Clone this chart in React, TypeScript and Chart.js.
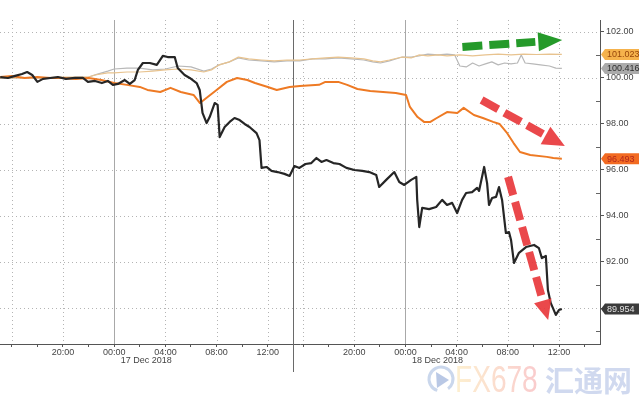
import React, { useEffect, useRef } from "react";
import { Chart, registerables } from "chart.js";

Chart.register(...registerables);

// ---- Data (x = display hours from 16 Dec 20:00; the 17 Dec afternoon gap is compressed) ----
const blackX = [-4.9,-4.3,-3.74,-3.2,-2.8,-2.4,-2.0,-1.56,-1.0,-0.4,0.23,0.94,1.56,1.95,2.5,3.04,3.5,3.9,4.29,4.83,5.22,5.6,5.85,6.24,6.78,7.33,7.8,8.18,8.73,8.96,9.5,9.9,10.44,10.68,10.9,11.22,11.46,11.85,12.08,12.24,12.63,13.02,13.4,13.8,14.19,14.57,15.12,15.35,15.51,15.9,16.29,16.76,17.3,17.7,18.08,18.47,18.94,19.4,19.8,20.19,20.58,21.12,21.6,22.14,22.76,23.38,23.93,24.47,24.7,25.25,25.88,26.27,26.66,27.2,27.6,27.67,27.83,28.06,28.6,29.15,29.62,30.0,30.4,30.79,31.18,31.49,31.96,32.35,32.5,32.9,33.13,33.28,33.52,33.83,34.06,34.3,34.6,34.84,35.0,35.23,35.62,36.17,36.8,37.18,37.41,37.72,37.88,38.1,38.5,38.74,38.97];
const blackY = [100.04,100.0,100.09,100.17,100.26,100.13,99.83,99.96,100.0,100.04,99.96,100.0,100.0,99.83,99.87,99.78,99.87,99.7,99.74,99.91,99.74,99.91,100.35,100.65,100.65,100.57,100.96,100.91,100.91,100.43,100.13,100.0,99.78,99.48,98.48,98.04,98.3,98.91,98.83,97.43,97.87,98.09,98.26,98.17,98.0,97.87,97.6,97.3,96.09,96.13,95.96,95.91,95.83,95.74,96.17,96.09,96.26,96.3,96.52,96.35,96.43,96.3,96.26,96.09,96.0,95.96,95.91,95.78,95.26,95.57,95.91,95.48,95.35,95.57,95.7,94.7,93.52,94.35,94.3,94.39,94.7,94.48,94.57,94.13,94.7,95.0,95.04,95.22,95.09,96.13,95.43,94.48,94.78,94.83,95.26,94.7,93.26,93.3,92.96,91.96,92.4,92.65,92.74,92.6,92.17,92.26,90.78,90.22,89.7,89.91,89.954];

const orangeX = [-4.9,-4,-3,-2,-1,0,1,2,3,4,5,6,6.6,7.6,8.4,9.2,10.2,10.7,11.2,12,12.8,13.6,14.4,15,16,16.7,17.7,18.5,20,20.5,21.5,22.2,23,24,25,26,26.8,27.1,27.7,28.2,28.7,29.2,30,30.8,31.3,32.1,32.8,33.6,34.1,34.7,35.2,35.7,36.5,37.8,38.3,38.97];
const orangeY = [100.04,100.09,100.0,100.04,100.0,100.0,99.96,100.0,99.91,99.78,99.7,99.61,99.48,99.39,99.57,99.39,99.26,98.91,99.13,99.48,99.83,100.0,99.91,99.78,99.61,99.48,99.61,99.65,99.7,99.83,99.83,99.7,99.52,99.43,99.39,99.35,99.26,98.74,98.3,98.09,98.09,98.26,98.52,98.48,98.7,98.39,98.26,98.09,98.0,97.6,97.17,96.78,96.65,96.57,96.52,96.493];

const tanX = [-4.9,-2,0,2,2.5,3.5,4,5,6,7,8,9,10,11,11.6,12.2,13,13.7,14.5,15.5,16.5,17.5,18.5,19.5,20.5,21.5,22.5,23.5,24.2,24.8,25.5,26.5,27.2,27.8,28.5,29.3,30,31,32,33,34,35,36,37,38,38.97];
const tanY = [100.0,100.0,100.04,100.04,100.13,100.22,100.22,100.26,100.26,100.3,100.35,100.39,100.35,100.26,100.35,100.57,100.7,100.91,100.83,100.78,100.74,100.78,100.78,100.83,100.87,100.91,100.87,100.83,100.74,100.7,100.78,100.91,100.87,101.0,100.96,101.0,100.96,101.0,100.96,101.0,101.04,101.0,101.04,101.02,101.04,101.023];

const grayX = [-4.9,0,2,2.7,3.5,4,5,6,7,8,9,10,11,11.6,12.2,13,13.7,14.5,15.5,16.5,17.5,18.5,19.5,20.5,21.5,22.5,23.5,24.2,24.8,25.5,26.5,27.2,27.8,28.5,29.3,30,30.6,31,31.5,32,32.5,33,33.5,34,34.5,35,35.5,35.8,36.1,36.7,37.3,38,38.5,38.97];
const grayY = [100.0,100.0,100.04,100.17,100.3,100.39,100.43,100.43,100.35,100.39,100.52,100.48,100.3,100.39,100.57,100.7,100.87,100.78,100.74,100.7,100.74,100.74,100.83,100.83,100.87,100.83,100.78,100.7,100.65,100.74,100.91,100.91,100.96,101.04,101.0,101.04,101.0,100.52,100.48,100.65,100.52,100.61,100.7,100.57,100.65,100.61,100.65,101.0,100.65,100.61,100.57,100.52,100.43,100.416];

const xTickValues = [-4,-2,0,2,4,6,8,10,12,14,16,18,18.75,20.75,22.75,24.75,26.75,28.75,30.75,32.75,34.75,36.75,38.75,40.75];
const xTickLabels = ["","","20:00","","00:00","","04:00","","08:00","","12:00","","","","20:00","","00:00","","04:00","","08:00","","12:00",""];
const xGridDotted = [-4,0,8,12,16,18.75,22.75,30.75,34.75,38.75];
const xGridDay = [4,26.75];
const xDivider = 18;
const dateLabels = ["17 Dec 2018","18 Dec 2018"];
const dateLabelX = [6.5,29.25];

const yTickValues = [89,90,91,92,93,94,95,96,97,98,99,100,101,102];
const yGridValues = [90,92,94,96,98,100,102];

// annotation arrows in data units: [x1, y1, x2, y2]
const greenArrow = [31.2, 101.35, 39.0, 101.65];
const redArrow1 = [32.7, 99.04, 39.2, 97.04];
const redArrow2 = [34.77, 95.7, 37.9, 89.48];

const FONT = '"Liberation Sans", Arial, sans-serif';

function toPts(xs: number[], ys: number[]) {
  return xs.map((x, i) => ({ x, y: ys[i] }));
}

function drawArrow(ctx: CanvasRenderingContext2D, x1: number, y1: number, x2: number, y2: number,
  color: string, width: number, headLen: number, headW: number, dash: number[]) {
  const dx = x2 - x1, dy = y2 - y1;
  const len = Math.hypot(dx, dy);
  const ux = dx / len, uy = dy / len;
  const bx = x2 - ux * headLen, by = y2 - uy * headLen;
  ctx.save();
  ctx.strokeStyle = color;
  ctx.fillStyle = color;
  ctx.lineWidth = width;
  ctx.lineCap = "butt";
  ctx.setLineDash(dash);
  ctx.beginPath();
  ctx.moveTo(x1, y1);
  ctx.lineTo(bx - ux * 3, by - uy * 3);
  ctx.stroke();
  ctx.setLineDash([]);
  ctx.beginPath();
  ctx.moveTo(x2, y2);
  ctx.lineTo(bx - uy * headW / 2, by + ux * headW / 2);
  ctx.lineTo(bx + uy * headW / 2, by - ux * headW / 2);
  ctx.closePath();
  ctx.fill();
  ctx.restore();
}

const decorPlugin = {
  id: "decor",
  beforeDatasetsDraw(chart: any) {
    const { ctx, chartArea, scales } = chart;
    const xs = scales.x, ys = scales.y;
    ctx.save();
    ctx.lineWidth = 1;
    ctx.strokeStyle = "#b4b4b4";
    ctx.setLineDash([1, 3]);
    yGridValues.forEach((v) => {
      const py = Math.round(ys.getPixelForValue(v)) + 0.5;
      ctx.beginPath();
      ctx.moveTo(chartArea.left, py);
      ctx.lineTo(chartArea.right, py);
      ctx.stroke();
    });
    xGridDotted.forEach((v) => {
      const px = Math.round(xs.getPixelForValue(v)) + 0.5;
      ctx.beginPath();
      ctx.moveTo(px, chartArea.top);
      ctx.lineTo(px, chartArea.bottom);
      ctx.stroke();
    });
    ctx.setLineDash([]);
    ctx.strokeStyle = "#a8a8a8";
    xGridDay.forEach((v) => {
      const px = Math.round(xs.getPixelForValue(v)) + 0.5;
      ctx.beginPath();
      ctx.moveTo(px, chartArea.top);
      ctx.lineTo(px, chartArea.bottom);
      ctx.stroke();
    });
    ctx.strokeStyle = "#6a6a6a";
    const dpx = Math.round(xs.getPixelForValue(xDivider)) + 0.5;
    ctx.beginPath();
    ctx.moveTo(dpx, chartArea.top);
    ctx.lineTo(dpx, chartArea.bottom + 28);
    ctx.stroke();
    ctx.restore();
  },
  afterDatasetsDraw(chart: any) {
    const { ctx, chartArea, scales } = chart;
    const xs = scales.x, ys = scales.y;
    ctx.save();
    ctx.strokeStyle = "#666";
    ctx.lineWidth = 1;
    yTickValues.filter((v) => v % 2 !== 0).forEach((v) => {
      const py = Math.round(ys.getPixelForValue(v)) + 0.5;
      ctx.beginPath();
      ctx.moveTo(chartArea.right - 4, py);
      ctx.lineTo(chartArea.right, py);
      ctx.stroke();
    });
    ctx.restore();

    const arrow = (a: number[], color: string, w: number, hl: number, hw: number, dash: number[]) =>
      drawArrow(ctx, xs.getPixelForValue(a[0]), ys.getPixelForValue(a[1]),
        xs.getPixelForValue(a[2]), ys.getPixelForValue(a[3]), color, w, hl, hw, dash);
    arrow(greenArrow, "#259a2a", 8, 24, 19, [20, 7]);
    arrow(redArrow1, "rgba(232,56,60,0.92)", 8, 22, 20, [19, 7]);
    arrow(redArrow2, "rgba(232,56,60,0.92)", 8, 20, 18, [19, 7]);

    const boxes = [
      { v: tanY[tanY.length - 1], fill: "#f5b24c", text: "#97460a" },
      { v: grayY[grayY.length - 1], fill: "#ababab", text: "#2e2e2e" },
      { v: orangeY[orangeY.length - 1], fill: "#f26b22", text: "#b3271c" },
      { v: blackY[blackY.length - 1], fill: "#3b3b3b", text: "#e4e4e4" },
    ];
    ctx.save();
    ctx.font = `9px ${FONT}`;
    ctx.textBaseline = "middle";
    ctx.textAlign = "left";
    boxes.forEach((b) => {
      const yc = ys.getPixelForValue(b.v);
      const l = chartArea.right + 1;
      ctx.fillStyle = b.fill;
      ctx.beginPath();
      ctx.moveTo(l, yc);
      ctx.lineTo(l + 4, yc - 5.5);
      ctx.lineTo(639, yc - 5.5);
      ctx.lineTo(639, yc + 5.5);
      ctx.lineTo(l + 4, yc + 5.5);
      ctx.closePath();
      ctx.fill();
      ctx.fillStyle = b.text;
      ctx.fillText(b.v.toFixed(3), l + 6, yc + 0.5);
    });
    ctx.restore();
  },
  afterDraw(chart: any) {
    const { ctx, chartArea, scales } = chart;
    const xs = scales.x;
    ctx.save();
    ctx.font = `9px ${FONT}`;
    ctx.fillStyle = "#444";
    ctx.textAlign = "center";
    ctx.textBaseline = "middle";
    dateLabels.forEach((t, i) => {
      ctx.fillText(t, xs.getPixelForValue(dateLabelX[i]), chartArea.bottom + 17);
    });
    // watermark
    ctx.globalAlpha = 0.55;
    ctx.strokeStyle = "#9fb6dc";
    ctx.lineWidth = 3;
    ctx.beginPath();
    ctx.arc(441, 379, 12, Math.PI * 0.6, Math.PI * 2.3);
    ctx.stroke();
    ctx.fillStyle = "#7f9bd0";
    ctx.beginPath();
    ctx.moveTo(436, 372);
    ctx.lineTo(449, 380);
    ctx.lineTo(437, 388);
    ctx.closePath();
    ctx.fill();
    ctx.save();
    ctx.translate(455, 392);
    ctx.scale(0.78, 1);
    const grad = ctx.createLinearGradient(0, 0, 100, 0);
    grad.addColorStop(0, "#fbe3a8");
    grad.addColorStop(1, "#f5a3a3");
    ctx.fillStyle = grad;
    ctx.font = `36px ${FONT}`;
    ctx.textAlign = "left";
    ctx.textBaseline = "alphabetic";
    ctx.fillText("FX678", 0, 0);
    ctx.restore();
    ctx.fillStyle = "#a9b9e2";
    ctx.font = `bold 29px "Noto Sans CJK SC", sans-serif`;
    ctx.textAlign = "left";
    ctx.textBaseline = "alphabetic";
    ctx.fillText("汇通网", 545, 392);
    ctx.restore();
  },
};

export default function App() {
  const ref = useRef<HTMLCanvasElement>(null);
  useEffect(() => {
    document.body.style.margin = "0";
    const canvas = ref.current!;
    const chart = new Chart(canvas, {
      type: "line",
      data: {
        datasets: [
          { data: toPts(blackX, blackY), borderColor: "#262626", borderWidth: 2.2 },
          { data: toPts(orangeX, orangeY), borderColor: "#ee7a24", borderWidth: 2 },
          { data: toPts(tanX, tanY), borderColor: "#e8c38f", borderWidth: 1.2 },
          { data: toPts(grayX, grayY), borderColor: "#b8b8b8", borderWidth: 1.2 },
        ],
      },
      options: {
        animation: false,
        responsive: false,
        devicePixelRatio: 1,
        layout: { padding: { top: 20, left: 0, right: 0, bottom: 0 } },
        elements: {
          point: { radius: 0, hoverRadius: 0 },
          line: { tension: 0, borderJoinStyle: "round", fill: false },
        },
        plugins: { legend: { display: false }, tooltip: { enabled: false } },
        events: [],
        scales: {
          x: {
            type: "linear",
            position: "bottom",
            min: -4.92,
            max: 41.95,
            afterBuildTicks: (s: any) => {
              s.ticks = xTickValues.map((v) => ({ value: v }));
            },
            afterFit: (s: any) => {
              s.height = 56;
            },
            ticks: {
              autoSkip: false,
              maxRotation: 0,
              padding: 0,
              color: "#444",
              font: { family: FONT, size: 9 },
              callback: (v: any) => {
                const i = xTickValues.findIndex((t) => Math.abs(t - Number(v)) < 1e-6);
                return i >= 0 ? xTickLabels[i] : "";
              },
            },
            grid: { drawOnChartArea: false, drawTicks: true, tickLength: 3, tickColor: "#555" },
            border: { display: true, color: "#555", width: 1 },
          },
          y: {
            type: "linear",
            position: "right",
            min: 88.435,
            max: 102.52,
            afterBuildTicks: (s: any) => {
              s.ticks = yTickValues.map((v) => ({ value: v }));
            },
            afterFit: (s: any) => {
              s.width = 40;
            },
            ticks: {
              padding: 2,
              color: "#444",
              font: { family: FONT, size: 9 },
              callback: (v: any) => (Number(v) % 2 === 0 ? Number(v).toFixed(2) : ""),
            },
            grid: {
              drawOnChartArea: false,
              drawTicks: true,
              tickLength: 4,
              tickColor: (c: any) => (c.tick && c.tick.value % 2 === 0 ? "#555" : "rgba(0,0,0,0)"),
            },
            border: { display: true, color: "#555", width: 1 },
          },
        },
      },
      plugins: [decorPlugin],
    } as any);
    return () => chart.destroy();
  }, []);
  return <canvas ref={ref} width={640} height={400} style={{ display: "block" }} />;
}
